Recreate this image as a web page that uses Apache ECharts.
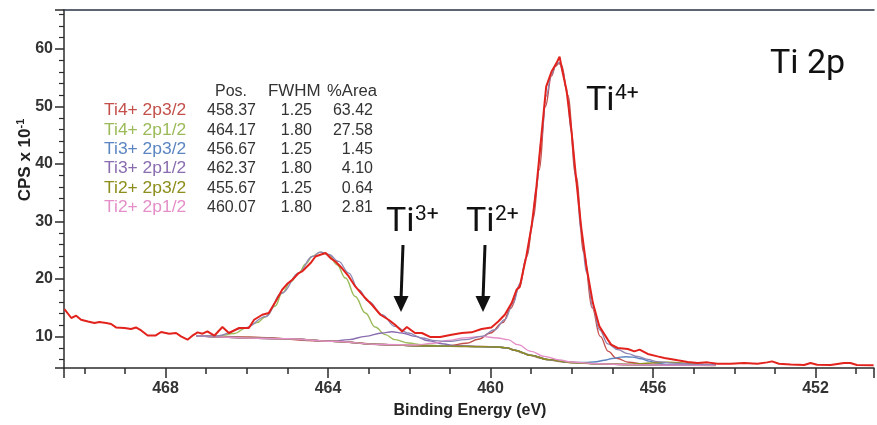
<!DOCTYPE html>
<html><head><meta charset="utf-8">
<script src="https://cdn.jsdelivr.net/npm/echarts@6/dist/echarts.min.js"></script>
<style>html,body{margin:0;padding:0;background:#fff}#c{width:877px;height:425px}</style>
</head><body><div id="c"></div><script>
// ---- measured spectrum (raw, noisy) ----
const rawE = [470.49,470.32,470.2,470.08,469.91,469.75,469.63,469.46,469.34,469.22,469.01,468.85,468.73,468.6,468.44,468.24,468.11,467.91,467.74,467.62,467.46,467.34,467.21,467.09,466.97,466.8,466.6,466.44,466.19,465.95,465.82,465.62,465.46,465.29,465.13,465.01,464.88,464.72,464.64,464.43,464.31,464.19,464.06,463.94,463.82,463.66,463.49,463.33,463.12,462.92,462.71,462.51,462.35,462.18,462.06,461.86,461.69,461.49,461.24,460.96,460.71,460.47,460.22,459.98,459.81,459.65,459.48,459.36,459.28,459.12,458.99,458.87,458.75,458.63,458.5,458.38,458.3,458.22,458.13,458.01,457.89,457.77,457.64,457.48,457.32,457.11,457.03,456.87,456.62,456.46,456.33,456.13,455.89,455.72,455.39,455.15,454.9,454.66,454.42,454.09,453.76,453.43,453.19,453.07,452.9,452.61,452.28,452.12,451.96,451.63,451.3,451.14,450.98,450.57];
const rawV = [14.76,13.2,13.6,12.9,12.6,12.33,12.5,12.33,12.16,11.56,11.46,11.29,11.56,11.04,10.17,10.17,10.76,10.47,10.59,10.0,9.43,10.12,10.7,10.47,10.87,10.12,11.63,10.59,11.46,11.46,12.9,13.77,14.07,16.08,18.12,19.1,19.86,21.02,21.3,22.76,23.9,24.2,24.5,23.63,23.04,21.89,20.43,18.69,16.95,15.51,13.77,12.9,12.03,10.87,11.63,10.59,10.59,9.9,9.9,10.3,10.59,10.7,11.29,11.56,12.6,13.77,15.8,18.12,18.69,23.9,29.12,36.07,44.76,53.46,56.06,57.52,58.67,55.78,52.88,45.93,37.24,29.12,22.17,15.8,11.74,9.4,8.56,7.98,7.8,7.4,7.69,6.94,6.52,6.25,5.83,5.55,5.38,5.48,5.25,5.25,5.38,5.25,5.48,5.65,5.25,5.13,5.03,5.38,5.08,5.03,5.38,5.38,5.03,4.96];
// ---- fitted envelope ----
const envE = [467.25,466.76,466.03,465.54,465.13,464.72,464.39,464.19,463.98,463.74,463.49,463.25,463.0,462.67,462.35,462.02,461.69,461.36,461.04,460.63,460.22,459.89,459.65,459.44,459.28,459.12,458.99,458.87,458.75,458.63,458.5,458.38,458.3,458.22,458.13,458.01,457.89,457.77,457.64,457.48,457.32,457.11,456.87,456.62,456.38,456.13,455.89,455.52,454.9,454.46];
const envV = [10.1,10.05,11.5,13.45,17.55,21.05,23.9,24.65,24.25,23.04,21.02,18.12,16.08,13.77,11.74,10.59,9.72,9.25,9.13,9.43,10.0,11.16,12.9,15.8,19.2,23.7,28.9,35.8,44.2,51.8,55.6,57.4,57.7,56.0,52.9,45.6,36.9,28.2,21.2,15.0,11.2,8.7,7.7,7.0,6.5,6.0,5.6,5.35,5.15,5.08];
// ---- Shirley background ----
const bgE = [467.25,466.76,465.95,465.0,463.9,462.68,461.85,461.0,460.2,459.82,459.6,459.4,459.2,459.0,458.8,458.58,458.3,458.02,457.36,456.55,455.5,454.46];
const bgV = [10.12,10.0,9.85,9.6,9.15,8.6,8.38,8.3,8.22,8.15,8.0,7.6,7.1,6.7,6.3,5.95,5.65,5.45,5.25,5.08,5.0,4.95];
// ---- components ----
const ti4p32E = [467.25,465.95,463.9,462.68,461.85,461.0,460.6,460.3,460.0,459.7,459.5,459.3,459.1,458.95,458.8,458.65,458.5,458.4,458.32,458.25,458.1,457.9,457.7,457.5,457.3,457.1,456.9,456.6,456.2,455.5,454.46];
const ti4p32V = [10.12,9.85,9.15,8.6,8.38,8.4,8.8,9.5,10.6,12.4,14.9,18.4,24.0,30.5,39.0,50.0,55.3,57.0,57.5,57.2,52.0,38.0,24.5,15.0,10.0,7.4,6.2,5.5,5.2,5.0,4.95];
const ti4p12E = [467.25,466.76,466.3,466.03,465.75,465.54,465.3,465.13,464.92,464.72,464.55,464.39,464.19,463.98,463.78,463.57,463.33,463.08,462.84,462.59,462.35,462.02,461.69,461.3,460.8,460.2,459.82,459.6,459.4,459.0,458.58,458.02,457.36,456.55,455.5,454.46];
const ti4p12V = [10.12,10.05,10.5,11.46,12.4,13.42,15.3,17.54,19.5,21.02,22.6,23.9,24.67,24.2,22.46,20.15,16.95,14.07,11.63,10.3,9.43,8.85,8.56,8.4,8.3,8.22,8.15,8.0,7.6,6.7,5.95,5.45,5.25,5.08,5.0,4.95];
const ti3p32E = [467.25,465.0,463.9,462.68,461.85,461.0,460.2,459.82,459.6,459.4,459.0,458.58,458.02,457.7,457.4,457.2,457.0,456.8,456.67,456.5,456.3,456.1,455.9,455.6,455.2,454.46];
const ti3p32V = [10.12,9.6,9.15,8.6,8.38,8.3,8.22,8.15,8.0,7.6,6.7,5.95,5.5,5.45,5.6,5.85,6.15,6.4,6.45,6.4,6.1,5.7,5.35,5.1,5.0,4.95];
const ti3p12E = [467.25,465.0,463.9,463.49,463.08,462.67,462.43,462.18,461.86,461.53,461.2,460.87,460.2,459.82,459.6,459.4,459.0,458.58,458.02,457.36,456.55,455.5,454.46];
const ti3p12V = [10.12,9.6,9.13,9.43,10.0,10.59,10.82,10.59,10.0,9.25,8.73,8.38,8.22,8.15,8.0,7.6,6.7,5.95,5.45,5.25,5.08,5.0,4.95];
const ti2p32E = [467.25,465.0,463.9,462.68,461.85,461.0,460.2,459.82,459.6,459.4,459.0,458.58,458.02,457.36,456.6,456.3,456.0,455.67,455.3,455.0,454.6,454.46];
const ti2p32V = [10.12,9.6,9.15,8.6,8.38,8.3,8.22,8.15,8.0,7.6,6.7,5.95,5.45,5.25,5.12,5.25,5.4,5.52,5.4,5.2,5.0,4.97];
const ti2p12E = [467.25,465.0,463.9,462.68,461.85,461.4,461.04,460.63,460.22,459.82,459.57,459.33,459.0,458.68,458.3,458.02,457.36,456.55,455.5,454.46];
const ti2p12V = [10.12,9.6,9.15,8.6,8.5,8.8,9.3,9.75,10.0,9.72,9.43,8.56,7.4,6.52,5.9,5.55,5.25,5.08,5.0,4.95];

// ---- table ----
const compNames = ['Ti4+ 2p3/2','Ti4+ 2p1/2','Ti3+ 2p3/2','Ti3+ 2p1/2','Ti2+ 2p3/2','Ti2+ 2p1/2'];
const compPos = ['458.37','464.17','456.67','462.37','455.67','460.07'];
const compFwhm = ['1.25','1.80','1.25','1.80','1.25','1.80'];
const compArea = ['63.42','27.58','1.45','4.10','0.64','2.81'];
const compColors = ['#c4504c','#9bbb59','#5b86c2','#8a6db0','#8e8e1c','#e48fc8'];
const tableHeads = ['Pos.','FWHM','%Area'];
const xTicks = [452,456,460,464,468];
const yTicks = [10,20,30,40,50,60];

const zip = (a,b)=>a.map((v,i)=>[v,b[i]]);
const compData = [zip(ti4p32E,ti4p32V),zip(ti4p12E,ti4p12V),zip(ti3p32E,ti3p32V),zip(ti3p12E,ti3p12V),zip(ti2p32E,ti2p32V),zip(ti2p12E,ti2p12V)];

const chart = echarts.init(document.getElementById('c'), null, {renderer:'canvas'});
const axisCol = '#2b2b2b';
const series = [];
series.push({type:'line', name:'bg', data:zip(bgE,bgV), showSymbol:false, smooth:0.3, smoothMonotone:'x', lineStyle:{color:'#a06a3a', width:1.6}, z:2});
compData.forEach((d,i)=>{
  series.push({type:'line', name:compNames[i], data:d, showSymbol:false, smooth:0.4, smoothMonotone:'x', lineStyle:{color:compColors[i], width:1.4}, z:3});
});
series.push({type:'line', name:'envelope', data:zip(envE,envV), showSymbol:false, smooth:0.4, smoothMonotone:'x', lineStyle:{color:'#8e86b4', width:1.3}, z:4});
series.push({type:'line', name:'raw', data:zip(rawE,rawV), showSymbol:false, smooth:false, lineStyle:{color:'#e2221c', width:2}, z:5});

const gfx = [];
const tf = 'Liberation Sans, Arial, sans-serif';
const headX = [215,268,327], headS = [1.0,1.06,1.04];
tableHeads.forEach((h,i)=>{
  gfx.push({type:'text', x:headX[i], y:92, scaleX:headS[i], style:{text:h, x:0, y:0, fill:'#333', font:'16px '+tf, align:'left', verticalAlign:'middle'}});
});
compNames.forEach((n,i)=>{
  const y = 111 + 19.3*i;
  gfx.push({type:'text', x:104, y:y, scaleX:1.09, style:{text:n, x:0, y:0, fill:compColors[i], font:'16px '+tf, align:'left', verticalAlign:'middle'}});
  gfx.push({type:'text', style:{text:compPos[i], x:256, y:y, fill:'#333', font:'16px '+tf, align:'right', verticalAlign:'middle'}});
  gfx.push({type:'text', style:{text:compFwhm[i], x:312, y:y, fill:'#333', font:'16px '+tf, align:'right', verticalAlign:'middle'}});
  gfx.push({type:'text', style:{text:compArea[i], x:373, y:y, fill:'#333', font:'16px '+tf, align:'right', verticalAlign:'middle'}});
});
const af = 'Roboto, sans-serif';
gfx.push({type:'text', style:{text:'Ti 2p', x:770, y:64, fill:'#111', font:'34px '+af, align:'left', verticalAlign:'middle'}});
[['4+',586,101],['3+',386,222],['2+',466,222]].forEach(([s,x,y])=>{
  gfx.push({type:'text', style:{text:'Ti', x:x, y:y, fill:'#111', font:'34px '+af, align:'left', verticalAlign:'middle'}});
  gfx.push({type:'text', style:{text:s, x:x+29, y:y-7.5, fill:'#111', font:'21px '+af, align:'left', verticalAlign:'middle'}});
});
[[403,401],[485,483]].forEach(([x0,x1])=>{
  gfx.push({type:'line', shape:{x1:x0,y1:245,x2:x1,y2:300}, style:{stroke:'#111', lineWidth:3}});
  gfx.push({type:'polygon', shape:{points:[[x1-7.5,296],[x1+7.5,296],[x1,312]]}, style:{fill:'#111'}});
});
gfx.push({type:'text', rotation:Math.PI/2, x:25, y:160, style:{text:'{a|CPS x 10}{b|-1}', x:0, y:0, align:'center', verticalAlign:'middle', rich:{a:{font:'bold 17px '+tf, fill:'#222', lineHeight:20}, b:{font:'bold 11px '+tf, fill:'#222', lineHeight:12, verticalAlign:'top'}}}});
gfx.push({type:'text', style:{text:'Binding Energy (eV)', x:470, y:411, fill:'#222', font:'bold 16px '+tf, align:'center', verticalAlign:'middle'}});

chart.setOption({
  animation:false,
  backgroundColor:'#fff',
  grid:{left:64, right:0, top:10, bottom:57},
  xAxis:[{type:'value', inverse:true, min:450.56, max:470.5, minInterval:4, maxInterval:4,
    axisLine:{show:true, onZero:false, lineStyle:{color:axisCol, width:1.5}},
    axisTick:{show:true, length:10, lineStyle:{color:axisCol, width:1.5}},
    minorTick:{show:true, splitNumber:4, length:6, lineStyle:{color:axisCol, width:1.5}},
    splitLine:{show:false},
    axisLabel:{margin:13, color:'#333', fontWeight:'bold', fontSize:16, fontFamily:tf,
      formatter:v=> xTicks.includes(Math.round(v*100)/100) ? String(v) : ''}},
    {type:'value', position:'top', inverse:true, min:450.56, max:470.5,
    axisLine:{show:true, onZero:false, lineStyle:{color:'#2a3344', width:1.5}},
    axisTick:{show:false}, axisLabel:{show:false}, splitLine:{show:false}}],
  yAxis:{type:'value', min:4.5, max:66.8, minInterval:10, maxInterval:10,
    axisLine:{show:true, onZero:false, lineStyle:{color:axisCol, width:1.5}},
    axisTick:{show:true, length:9, lineStyle:{color:axisCol, width:1.5}},
    minorTick:{show:true, splitNumber:5, length:5, lineStyle:{color:axisCol, width:1.2}},
    splitLine:{show:false},
    axisLabel:{margin:11, color:'#333', fontWeight:'bold', fontSize:16, fontFamily:tf,
      formatter:v=> yTicks.includes(Math.round(v*100)/100) ? String(v) : ''}},
  series:series,
  graphic:gfx
});
</script></body></html>
